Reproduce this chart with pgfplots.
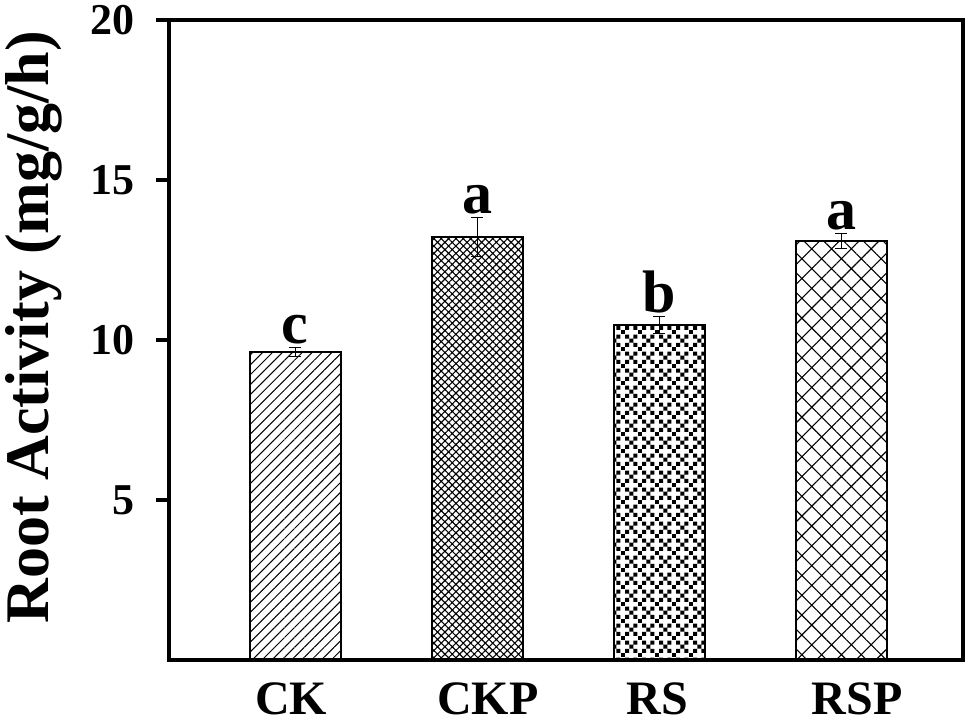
\documentclass[border=0pt]{standalone}
\usepackage{pgfplots}
\pgfplotsset{compat=1.18}
\usepackage{fontspec}
\setmainfont{Liberation Serif}
\usetikzlibrary{patterns,patterns.meta}
\pgfdeclarepatternformonly{rsdots}{\pgfpointorigin}{\pgfpoint{8.4pt}{8.4pt}}{\pgfpoint{8.4pt}{8.4pt}}{%
  \pgfpathrectangle{\pgfpoint{0pt}{0pt}}{\pgfpoint{2pt}{2pt}}%
  \pgfpathrectangle{\pgfpoint{2.1pt}{2.1pt}}{\pgfpoint{2pt}{2pt}}%
  \pgfpathrectangle{\pgfpoint{4.2pt}{4.2pt}}{\pgfpoint{2pt}{2pt}}%
  \pgfpathrectangle{\pgfpoint{6.3pt}{6.3pt}}{\pgfpoint{2pt}{2pt}}%
  \pgfpathrectangle{\pgfpoint{2.1pt}{6.3pt}}{\pgfpoint{2pt}{2pt}}%
  \pgfpathrectangle{\pgfpoint{6.3pt}{2.1pt}}{\pgfpoint{2pt}{2pt}}%
  \pgfusepath{fill}}
\begin{document}
\begin{tikzpicture}
\useasboundingbox (-84.5pt,-32pt) rectangle (400pt,330pt);
\begin{axis}[
  at={(0pt,0pt)}, anchor=south west,
  scale only axis,
  width=397pt, height=320pt,
  xmin=0.3077, xmax=4.670,
  ymin=0, ymax=20,
  axis line style={line width=2.2pt},
  ytick={5,10,15,20},
  ytick pos=left,
  tick align=outside,
  major tick length=6.5pt,
  ytick style={line width=1.6pt, black},
  xtick={0.978,2.06,2.99,4.088},
  xticklabels={CK,CKP,RS,RSP},
  xtick style={draw=none},
  xtick pos=bottom,
  /pgf/number format/assume math mode=true,
  yticklabel style={font=\fontsize{22}{22}\selectfont\bfseries, xshift=-7pt},
  xticklabel style={font=\fontsize{24}{24}\selectfont\bfseries, yshift=-4.5pt, inner sep=0pt, text depth=0pt},
  ylabel={Root Activity (mg/g/h)},
  ylabel style={font=\fontsize{31}{31}\selectfont\bfseries, inner sep=0pt, at={(axis description cs:-0.170,0.52)}, anchor=center},
  ybar, bar shift=0pt, bar width=0.5,
  clip=false,
  error bars/y dir=both, error bars/y explicit,
  error bars/error mark options={rotate=90, mark size=3pt, line width=0.5pt},
  error bars/error bar style={line width=0.5pt},
]
\addplot[draw=black, line width=1pt, pattern={Lines[angle=45, distance=3.5pt, line width=0.5pt]}]
  coordinates {(1,9.625) +- (0,0.13)};
\addplot[draw=black, line width=1pt, pattern={Hatch[angle=45, distance=2.6pt, line width=0.55pt]}]
  coordinates {(2,13.22) +- (0,0.61)};
\addplot[draw=black, line width=1pt, pattern=rsdots]
  coordinates {(3,10.47) +- (0,0.28)};
\addplot[draw=black, line width=1pt, pattern={Hatch[angle=45, distance=7pt, line width=0.55pt]}]
  coordinates {(4,13.1) +- (0,0.24)};
\node[anchor=south, inner sep=0pt, yshift=1.5pt, font=\fontsize{30}{30}\selectfont\bfseries] at (axis cs:1,9.755) {c};
\node[anchor=south, inner sep=0pt, yshift=1.5pt, font=\fontsize{30}{30}\selectfont\bfseries] at (axis cs:2,13.83) {a};
\node[anchor=south, inner sep=0pt, yshift=1.5pt, font=\fontsize{30}{30}\selectfont\bfseries] at (axis cs:3,10.75) {b};
\node[anchor=south, inner sep=0pt, yshift=1.5pt, font=\fontsize{30}{30}\selectfont\bfseries] at (axis cs:4,13.34) {a};
\end{axis}
\end{tikzpicture}
\end{document}
